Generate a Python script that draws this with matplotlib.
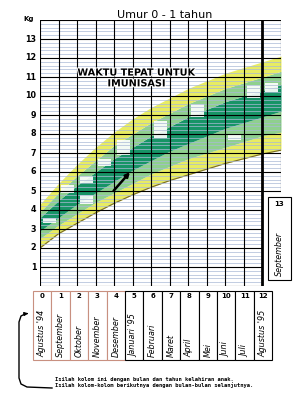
import numpy as np
import matplotlib
matplotlib.use('Agg')
import matplotlib.pyplot as plt
from matplotlib.patches import Rectangle
import matplotlib.patheffects as pe

# Data KMS umur 0 - 1 tahun
bulan = np.arange(14)
garis_atas   = [4.3, 5.4, 6.4, 7.3, 8.1, 8.8, 9.4, 9.9, 10.4, 10.8, 11.2, 11.5, 11.8, 12.1]
kuning_atas  = [3.9, 4.9, 5.8, 6.6, 7.4, 8.0, 8.6, 9.1, 9.6, 10.0, 10.4, 10.7, 11.0, 11.3]
hijau_atas   = [3.6, 4.5, 5.3, 6.0, 6.7, 7.3, 7.9, 8.4, 8.9, 9.3, 9.7, 10.0, 10.3, 10.6]
hijau_bawah  = [2.9, 3.6, 4.3, 4.9, 5.5, 6.1, 6.6, 7.1, 7.5, 7.9, 8.3, 8.6, 8.9, 9.2]
kuning_bawah = [2.5, 3.2, 3.8, 4.4, 4.9, 5.4, 5.9, 6.3, 6.7, 7.0, 7.3, 7.6, 7.9, 8.1]
garis_bawah  = [2.0, 2.75, 3.3, 3.85, 4.35, 4.8, 5.2, 5.55, 5.85, 6.15, 6.45, 6.7, 6.95, 7.15]

# kotak putih "waktu tepat untuk imunisasi": (kolom, kg bawah, kg atas)
imunisasi_kolom = [0, 1, 2, 2, 3, 4, 6, 8, 10, 11, 12]
imunisasi_bawah = [3.3, 4.9, 4.3, 5.4, 6.3, 6.9, 7.8, 8.9, 7.7, 9.9, 10.2]
imunisasi_atas  = [3.6, 5.3, 4.8, 5.8, 6.7, 7.7, 8.7, 9.6, 8.0, 10.6, 10.7]

kg_label = list(range(1, 14))
nomor_bulan = [str(i) for i in range(13)]
nama_bulan = ["Agustus '94", "September", "Oktober", "November", "Desember",
              "Januari '95", "Februari", "Maret", "April", "Mei", "Juni",
              "Juli", "Agustus '95"]

kuning = '#e8ec62'
hijau_muda = '#8fd08e'
hijau_tua = '#179466'

fig = plt.figure(figsize=(2.93, 3.98), dpi=100)
ax = fig.add_axes([40/293, 112/398, 241/293, 266/398])
ax.set_xlim(0, 13)
ax.set_ylim(0, 14)
ax.axis('off')

# pita warna
ax.fill_between(bulan, garis_bawah, kuning_bawah, color=kuning, lw=0)
ax.fill_between(bulan, kuning_bawah, hijau_bawah, color=hijau_muda, lw=0)
ax.fill_between(bulan, hijau_bawah, hijau_atas, color=hijau_tua, lw=0)
ax.fill_between(bulan, hijau_atas, kuning_atas, color=hijau_muda, lw=0)
ax.fill_between(bulan, kuning_atas, garis_atas, color=kuning, lw=0)
ax.plot(bulan, garis_bawah, color='#7a6a2a', lw=0.8)

for k, lo, hi in zip(imunisasi_kolom, imunisasi_bawah, imunisasi_atas):
    ax.add_patch(Rectangle((k + 0.15, lo), 0.7, hi - lo, fc='white', ec='none', alpha=0.9))

# garis kisi
for y in np.arange(0, 14, 0.2):
    if abs(y - round(y)) < 1e-6:
        continue
    xe = 13 if y > 5 else 12
    ax.plot([0, xe], [y, y], color='#a9b9d6', lw=0.5)
for y in range(0, 15):
    xe = 13 if y >= 5 else 12
    ax.plot([0, xe], [y, y], color='black', lw=0.8)
for x in range(0, 13):
    ax.plot([x, x], [0, 14], color='black', lw=2.0 if x == 12 else 0.8)
ax.plot([13, 13], [5, 14], color='black', lw=0.8)

for k in kg_label:
    ax.text(-0.2, k, str(k), ha='right', va='center', fontsize=5.8, fontweight='bold')
ax.text(-0.6, 14.05, 'Kg', ha='center', va='center', fontsize=5, fontweight='bold')

ax.text(5.2, 10.95, 'WAKTU TEPAT UNTUK\nIMUNISASI', ha='center', va='center',
        fontsize=7, fontweight='bold', linespacing=1.1,
        path_effects=[pe.withStroke(linewidth=1.5, foreground='white')])

ax.annotate('', xy=(4.95, 6.1), xytext=(3.87, 4.9),
            arrowprops=dict(arrowstyle='-|>', lw=1.8, color='black', mutation_scale=6))

fig.text(165/293, 1 - 15/398, 'Umur 0 - 1 tahun', ha='center', va='center', fontsize=8)

# baris bulan di bawah
ov = fig.add_axes([0, 0, 1, 1])
ov.set_xlim(0, 293)
ov.set_ylim(398, 0)
ov.axis('off')

lebar = 18.4
for i, (no, nama) in enumerate(zip(nomor_bulan, nama_bulan)):
    x0 = 33 + i * lebar
    ec = '#c89080' if i < 5 else 'black'
    ov.add_patch(Rectangle((x0, 291), lebar, 69, fc='white', ec=ec, lw=0.8))
    ov.text(x0 + lebar / 2, 296, no, ha='center', va='center', fontsize=5, fontweight='bold')
    ov.text(x0 + lebar / 2, 357, nama, ha='center', va='bottom', rotation=90,
            fontsize=5.8, style='italic')

ov.add_patch(Rectangle((268, 197), 23, 83, fc='white', ec='black', lw=0.8))
ov.text(279.5, 204, '13', ha='center', va='center', fontsize=5, fontweight='bold')
ov.text(279.5, 276, 'September', ha='center', va='bottom', rotation=90,
        fontsize=5.8, style='italic')

ov.plot([52, 27, 21, 19, 19, 21, 25], [388, 387, 384, 378, 322, 316, 314], color='black', lw=1)
ov.annotate('', xy=(31, 313), xytext=(24, 314),
            arrowprops=dict(arrowstyle='-|>', lw=1, color='black', mutation_scale=5))

ov.text(55, 379, 'Isilah kolom ini dengan bulan dan tahun kelahiran anak.',
        fontsize=3.9, family='DejaVu Sans Mono', fontweight='bold', va='center')
ov.text(55, 385, 'Isilah kolom-kolom berikutnya dengan bulan-bulan selanjutnya.',
        fontsize=3.9, family='DejaVu Sans Mono', fontweight='bold', va='center')

fig.savefig('out.png', dpi=100)
